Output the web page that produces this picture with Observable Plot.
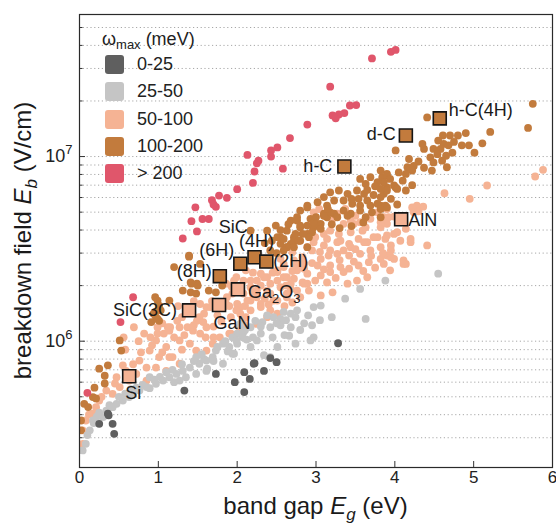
<!DOCTYPE html>
<html><head><meta charset="utf-8">
<script src="https://cdn.jsdelivr.net/npm/d3@7"></script>
<script src="https://cdn.jsdelivr.net/npm/@observablehq/plot@0.6"></script>
<style>
body{margin:0;background:#fff;font-family:"Liberation Sans",Arial,Helvetica,sans-serif;}
#wrap{position:relative;width:556px;height:526px;}
.lg{position:absolute;font-size:18px;color:#222;line-height:1;white-space:nowrap;}
.sw{position:absolute;width:19px;height:19px;border-radius:3px;}
</style></head><body><div id="wrap"></div>
<script>
// ω_max categories (meV)
const categories = ["0-25", "25-50", "50-100", "100-200", "> 200"];
const colors = ["#5f5f5f", "#c5c5c5", "#f5b394", "#c27b3d", "#e0566b"];

// [band gap Eg (eV), breakdown field Eb (V/cm)]
const w0_25 = [[0.36,4.05e5],[0.25,3.57e5],[0.42,3.57e5],[0.44,3.15e5],[0.37,3.97e5],[1.33,5.4e5],[1.73,6.65e5],[1.97,6.0e5],[2.09,6.8e5],[2.09,5.3e5],[2.16,6.25e5],[2.22,7.6e5],[2.42,8.1e5],[2.50,7.7e5],[3.28,9.75e5],[2.21,7.55e5],[2.34,6.9e5]];

const w25_50 = [[3.88,2.13e6],[3.56,1.92e6],[3.37,1.70e6],[3.63,1.32e6],[3.06,1.56e6],[2.97,1.53e6],[2.76,1.47e6],[2.68,1.41e6],[2.59,1.44e6],[2.55,1.32e6],[2.46,1.35e6],[2.38,1.38e6],[2.32,1.27e6],[2.23,1.29e6],[2.17,1.19e6],[2.08,1.12e6],[2.00,1.10e6],[1.94,1.05e6],[2.04,1.24e6],[2.42,1.19e6],[2.55,1.22e6],[2.68,1.19e6],[2.74,1.35e6],[2.66,1.07e6],[2.74,9.7e5],[2.51,9.3e5],[2.34,8.4e5],[2.42,8.2e5],[2.25,1.01e6],[2.17,9.3e5],[2.00,9.7e5],[1.96,8.55e5],[2.97,1.05e6],[2.93,1.01e6],[4.55,2.32e6],[2.07,1.05e6],[1.99,1.01e6],[1.90,9.3e5],[1.82,9.7e5],[1.73,8.9e5],[1.69,8.2e5],[1.61,7.85e5],[1.52,7.55e5],[1.48,8.2e5],[1.40,7.2e5],[1.31,6.9e5],[1.23,6.65e5],[1.14,6.38e5],[1.06,6.12e5],[0.97,5.88e5],[0.89,6.38e5],[0.85,5.64e5],[0.76,5.4e5],[0.68,5.19e5],[0.63,4.98e5],[0.55,4.77e5],[0.47,4.58e5],[0.42,4.39e5],[0.34,4.21e5],[0.30,3.88e5],[0.17,3.72e5],[0.13,3.29e5],[0.08,2.78e5],[0.04,2.56e5],[1.82,7.55e5],[1.94,8.55e5],[1.48,6.65e5],[1.35,6.38e5],[1.61,6.9e5],[1.27,6.12e5],[1.62,7.1e5],[0.89,5.57e5],[2.85,1.25e6],[2.62,1.30e6],[2.30,1.10e6],[2.12,1.02e6],[1.88,8.8e5],[1.58,8.0e5],[1.18,7.0e5],[1.02,6.4e5],[0.72,5.6e5],[0.58,5.2e5],[0.22,3.9e5],[3.20,1.35e6],[2.90,1.38e6],
[2.45,1.05e6],[2.60,1.08e6],[2.80,1.15e6],[2.95,1.22e6],[3.05,1.30e6],[2.20,1.05e6],[2.50,1.25e6],[2.30,1.20e6],[2.10,1.15e6],[1.85,1.0e6],[1.75,9.3e5],[1.55,8.5e5],[1.45,7.8e5],[1.30,7.5e5],[1.10,6.8e5],[0.95,6.2e5],[0.80,5.8e5],[0.65,5.5e5],[0.50,5.0e5],[0.38,4.5e5],[0.25,4.1e5],[0.18,3.6e5],[0.10,3.1e5],[1.70,7.8e5],[1.20,6.0e5]];

const w50_100 = [[5.88,8.47e6],[5.78,7.8e6],[5.17,6.97e6],[4.63,6.33e6],[4.95,5.9e6],[4.22,5.3e6],[4.28,5.43e6],[4.36,5.35e6],[4.24,4.99e6],[4.30,5.05e6],[3.86,4.69e6],[3.99,4.73e6],[3.90,4.32e6],[3.82,4.14e6],[3.99,3.81e6],[3.88,3.58e6],[4.20,3.58e6],[4.20,3.44e6],[4.41,3.3e6],[3.90,2.91e6],[3.99,2.79e6],[4.14,2.62e6],[3.94,2.42e6],
[2.97,4.99e6],[3.04,5.2e6],[3.27,4.9e6],[3.37,5.2e6],[3.44,4.5e6],[3.35,4.32e6],[3.21,4.6e6],[3.56,4.41e6],[3.69,4.6e6],[3.82,4.41e6],[3.92,4.69e6],[3.78,4.99e6],[3.90,5.2e6],[3.59,3.97e6],[3.44,3.89e6],[3.29,3.81e6],[3.18,3.97e6],[3.10,3.81e6],[2.99,3.66e6],[3.14,3.58e6],[3.27,3.44e6],[3.42,3.37e6],[3.54,3.58e6],[3.65,3.44e6],[3.78,3.66e6],[3.90,3.74e6],[4.03,3.89e6],[4.14,4.06e6],[4.07,3.5e6],[3.95,3.3e6],[3.82,3.23e6],[3.69,3.1e6],[3.56,2.97e6],[3.42,2.91e6],[3.27,2.97e6],[3.16,2.91e6],[3.06,2.79e6],[2.95,3.1e6],[3.02,2.57e6],[3.18,2.57e6],[3.31,2.52e6],[3.42,2.47e6],[3.54,2.57e6],[3.67,2.68e6],[3.82,2.79e6],[3.95,2.85e6],[4.11,2.74e6],[3.06,2.27e6],[3.18,2.37e6],[3.35,2.37e6],[3.65,2.22e6],[3.52,2.13e6],[3.40,2.05e6],[3.14,2.08e6],[2.99,2.13e6],[2.89,2.05e6],[3.21,1.84e6],[3.06,1.77e6],[2.83,2.08e6],[2.72,2.18e6],[2.59,2.22e6],[2.51,2.37e6],[2.59,2.52e6],[2.72,2.62e6],[2.85,2.47e6],[2.70,3.03e6],[2.83,2.85e6],[2.89,3.23e6],[2.97,3.44e6],[2.80,1.73e6],[2.91,1.88e6],[2.68,1.92e6],[2.55,1.96e6],[2.42,1.81e6],[2.51,1.66e6],[2.63,1.73e6],[2.34,2.22e6],[2.17,1.66e6],[2.08,1.81e6],[2.25,1.88e6],[2.17,2.13e6],[2.30,1.59e6],[2.04,1.53e6],[2.42,1.47e6],
[4.11,2.62e6],[3.86,2.62e6],[3.95,3.1e6],[3.61,3.44e6],[3.73,3.66e6],[3.63,4.14e6],[3.48,4.32e6],[3.50,4.78e6],[3.65,4.69e6],[3.44,3.23e6],[3.31,3.5e6],[3.18,3.1e6],
[1.96,2.13e6],[2.08,2.13e6],[2.17,1.96e6],[2.25,2.13e6],[2.30,2.32e6],[2.38,2.22e6],[2.51,2.42e6],[2.63,2.22e6],[2.68,2.05e6],[2.76,2.42e6],[2.89,2.32e6],[2.85,2.62e6],[2.72,2.74e6],[2.59,2.62e6],[2.51,2.13e6],[2.38,1.88e6],[2.25,1.73e6],[2.13,1.66e6],[2.00,1.59e6],[1.87,1.73e6],[1.83,1.53e6],[1.92,1.35e6],[2.04,1.41e6],[2.17,1.47e6],[2.30,1.53e6],[2.46,1.66e6],[2.63,1.81e6],[2.76,1.88e6],[2.85,2.05e6],[2.08,1.24e6],[2.25,1.24e6],[2.38,1.35e6],[2.51,1.41e6],[1.53,1.59e6],[1.66,1.53e6],[1.58,1.41e6],[1.49,1.29e6],[1.24,1.29e6],[1.37,1.19e6],[1.15,1.19e6],[1.07,1.10e6],[0.99,1.19e6],[0.82,1.10e6],[0.69,1.19e6],[0.56,1.05e6],[1.53,1.10e6],[1.70,1.05e6],[1.92,1.10e6],
[1.94,1.81e6],[1.86,1.59e6],[1.99,1.47e6],[1.61,1.53e6],[1.52,1.35e6],[1.61,1.19e6],[1.44,1.14e6],[1.27,1.19e6],[1.14,1.14e6],[1.27,1.01e6],[1.40,9.7e5],[1.48,8.9e5],[1.61,8.9e5],[1.69,9.7e5],[1.78,1.05e6],[1.90,1.10e6],[2.03,1.19e6],[2.11,1.35e6],[1.10,9.3e5],[0.97,1.01e6],[0.89,8.9e5],[1.01,8.2e5],[1.18,8.2e5],[1.27,7.55e5],[1.10,6.9e5],[0.97,7.2e5],[0.85,7.2e5],[0.72,6.65e5],[0.85,6.12e5],[0.63,6.12e5],[0.51,5.64e5],[0.42,5.19e5],[0.34,5.4e5],[0.25,4.77e5],[0.21,4.39e5],[0.17,4.05e5],[0.08,3.72e5],[0.04,3.29e5],[0.04,2.78e5],[0.47,6.38e5],[0.59,6.9e5],[0.76,7.85e5],[1.14,8.2e5],[1.12,1.19e6],[0.99,1.10e6],[1.86,2.05e6],[1.99,2.22e6],[2.11,2.42e6],
[1.05,1.25e6],[1.20,1.05e6],[1.33,1.08e6],[1.45,1.22e6],[1.57,1.27e6],[1.70,1.20e6],[1.80,1.28e6],[1.75,1.38e6],[1.68,1.65e6],[1.80,1.62e6],[1.90,1.55e6],[2.10,1.55e6],[2.20,1.80e6],[2.35,1.70e6],[2.30,2.00e6],[2.42,2.05e6],[2.45,2.35e6],[2.20,2.35e6],[2.05,1.95e6],[1.93,1.98e6],[2.62,2.00e6],[2.70,2.40e6],[2.80,2.60e6],[2.95,2.65e6],[3.10,2.45e6],[3.25,2.20e6],[3.30,2.75e6],[3.48,2.70e6],[3.60,2.40e6],[3.75,2.50e6],[3.70,2.90e6],[3.85,3.00e6],[3.50,3.15e6],[3.35,3.10e6],[3.10,3.30e6],[3.05,3.05e6],[2.55,2.80e6],[2.40,2.60e6],[1.30,9.0e5],[1.05,8.7e5],[0.92,9.5e5],[0.78,8.7e5],[0.68,7.5e5],[0.55,7.4e5],[0.45,5.9e5],[0.28,5.0e5],[0.12,4.0e5],[0.58,9.0e5],[0.75,1.0e6],[0.90,1.05e6],[1.60,1.05e6],[1.40,1.45e6],[1.30,1.35e6],[1.25,1.55e6],[1.45,1.65e6],[2.60,1.55e6],[2.40,1.58e6],[2.70,1.62e6]];

const w100_200 = [[5.75,1.93e7],[5.69,1.43e7],[4.41,1.63e7],[4.61,1.30e7],[4.70,1.30e7],[4.80,1.30e7],[4.90,1.34e7],[5.21,1.36e7],[5.11,1.18e7],[5.01,1.05e7],[4.94,1.15e7],[4.85,1.15e7],[4.62,1.17e7],[4.68,1.15e7],[4.58,1.10e7],[4.49,1.10e7],[4.37,1.10e7],[4.35,1.17e7],[4.73,1.05e7],[4.65,1.01e7],[4.54,1.03e7],[4.45,9.9e6],[4.01,1.08e7],[4.49,9.3e6],[4.60,9.5e6],[4.66,8.75e6],[4.47,8.4e6],[4.37,8.7e6],[4.24,8.9e6],[4.18,9.7e6],[4.16,8.75e6],[4.22,8.4e6],[4.14,8.05e6],[4.05,8.2e6],[3.90,8.05e6],[3.84,7.7e6],[4.01,6.8e6],[3.90,6.8e6],[4.22,7.0e6],[4.14,6.55e6],[3.86,6.28e6],[4.03,5.5e6],[3.95,5.9e6],[3.82,5.43e6],[3.88,5.43e6],
[4.20,8.6e6],[3.82,8.4e6],[3.90,7.9e6],[3.94,7.57e6],[3.86,7.26e6],[3.99,6.97e6],[4.03,6.68e6],[3.90,6.55e6],[3.78,7.26e6],[3.82,6.68e6],[3.69,7.73e6],[3.63,7.1e6],[3.56,7.57e6],[3.52,6.55e6],[3.61,6.28e6],[3.73,6.19e6],[3.82,6.03e6],[3.65,5.78e6],[3.54,5.9e6],[3.40,6.28e6],[3.35,5.78e6],[3.46,5.55e6],[3.56,5.43e6],[3.69,5.43e6],[3.78,5.55e6],[3.29,6.55e6],[3.18,6.4e6],[3.23,5.78e6],[3.10,6.03e6],[3.02,5.66e6],[3.14,5.43e6],[3.35,5.1e6],[3.23,4.9e6],[3.14,4.69e6],[3.44,4.9e6],[3.56,5.1e6],[3.71,4.99e6],[3.82,5.2e6],[3.90,5.3e6],[3.82,4.69e6],[2.89,5.43e6],[2.80,5.1e6],[2.93,4.6e6],[2.76,4.69e6],[2.68,4.5e6],[3.06,4.32e6],[2.97,4.14e6],[2.80,4.14e6],[2.89,3.81e6],[2.72,3.66e6],[2.63,3.97e6],[3.10,4.9e6],[2.68,3.37e6],[2.80,3.5e6],[2.63,3.23e6],[2.55,3.66e6],
[2.89,5.3e6],[3.18,4.99e6],[3.27,4.69e6],[3.10,4.78e6],[3.40,4.78e6],[3.63,4.69e6],[2.76,4.5e6],[2.89,4.23e6],[2.95,3.89e6],[2.83,3.81e6],[2.74,3.81e6],[3.02,4.32e6],[2.91,3.66e6],[3.06,4.06e6],[2.72,3.5e6],[2.51,3.66e6],[2.55,3.37e6],[2.63,3.23e6],[2.59,3.58e6],
[2.97,4.41e6],[2.80,4.23e6],[2.49,4.23e6],[2.38,3.97e6],[2.78,3.5e6],[2.72,3.23e6],[2.59,3.1e6],[2.89,3.23e6],[1.39,2.91e6],[1.20,2.52e6],[1.53,2.62e6],[2.17,3.97e6],[2.44,3.5e6],[2.42,3.1e6],
[1.39,2.87e6],[1.41,2.08e6],[1.49,2.05e6],[1.64,1.88e6],[1.81,2.0e6],[1.73,1.84e6],[1.41,1.84e6],[0.99,1.66e6],[1.01,1.56e6],[0.96,1.44e6],
[1.42,2.05e6],[1.50,2.0e6],[1.48,1.81e6],[1.31,1.88e6],[1.14,1.66e6],[0.97,1.35e6],[0.91,1.27e6],[1.01,1.29e6],[0.51,1.01e6],[0.53,8.9e5],[0.36,7.4e5],[0.25,7.1e5],[0.32,6.5e5],[0.32,5.9e5],[0.19,5.6e5],[0.17,4.98e5],[0.06,4.58e5],[0.02,3.72e5],[0.02,3.29e5],[0.11,4.4e5],[0.21,4.9e5],
[0.96,1.73e6],[1.03,1.47e6],[0.99,1.32e6],[0.94,1.41e6],
[3.30,4.10e6],[3.45,4.20e6],[3.60,4.40e6],[3.20,4.30e6],[3.00,4.70e6],[3.15,5.20e6],[3.45,5.90e6],[3.65,6.60e6],[3.75,6.90e6],[4.10,7.40e6],[4.30,9.40e6],[4.55,1.22e7],[4.75,1.20e7],[2.35,3.40e6],[2.55,4.00e6],[2.65,4.30e6],[2.50,3.00e6]];

const wOver200 = [[3.71,3.40e7],[3.95,3.69e7],[4.01,3.78e7],[3.18,2.39e7],[3.43,1.89e7],[3.51,1.90e7],[3.36,1.72e7],[3.29,1.69e7],[3.21,1.67e7],[3.25,1.61e7],[2.89,1.49e7],[2.67,1.26e7],[2.51,1.12e7],[2.43,1.08e7],[2.43,1.00e7],[2.27,9.5e6],[2.25,9.2e6],[2.13,1.02e7],[2.58,8.6e6],[2.22,8.3e6],[2.20,7.2e6],[2.00,6.66e6],[1.77,6.15e6],[1.87,5.98e6],[1.68,5.8e6],[1.73,5.34e6],[1.70,5.5e6],[1.47,5.31e6],[1.56,4.59e6],[1.64,4.59e6],[1.42,4.47e6],[1.49,3.93e6],[1.31,3.6e6],[0.68,1.73e6],[0.52,1.27e6],[0.10,5.25e5]];

// labelled materials
const matName = ["Si","SiC(3C)","GaN","Ga2O3","(8H)","(6H)","(4H)","(2H)","AlN","h-C","d-C","h-C(4H)"];
const matEg   = [0.63, 1.39, 1.77, 2.01, 1.78, 2.04, 2.22, 2.37, 4.08, 3.36, 4.14, 4.57];
const matEb   = [6.46e5, 1.47e6, 1.57e6, 1.91e6, 2.25e6, 2.63e6, 2.85e6, 2.70e6, 4.57e6, 8.83e6, 1.30e7, 1.61e7];
const matCat  = ["50-100","50-100","50-100","50-100","100-200","100-200","100-200","100-200","50-100","100-200","100-200","100-200"];
const groupLabel = "SiC"; // shared label of the SiC polytypes

// y axis ticks
const yMajor = [1e6, 1e7];
const yMinor = [3e5,4e5,5e5,6e5,7e5,8e5,9e5,2e6,3e6,4e6,5e6,6e6,7e6,8e6,9e6,2e7,3e7,4e7,5e7];
const xTicks = [0,1,2,3,4,5,6];

// ---- styles (label offsets, px) ----
const labelStyle = [
  {dx:4, dy:17, a:"middle"}, {dx:-12, dy:0, a:"end"}, {dx:13, dy:18.5, a:"middle"}, {dx:10, dy:3, a:"start"},
  {dx:-8, dy:-5, a:"end"}, {dx:-6, dy:-13.5, a:"end"}, {dx:2, dy:-15.5, a:"middle"}, {dx:7, dy:0, a:"start"},
  {dx:7, dy:0.5, a:"start"}, {dx:-12, dy:0, a:"end"}, {dx:-10, dy:-1, a:"end"}, {dx:9, dy:-8, a:"start"}
];

const toRows = (arr, cat) => arr.map(([Eg, Eb]) => ({Eg, Eb, cat}));
const layers = [
  toRows(w50_100, "50-100"), toRows(w100_200, "100-200"), toRows(w25_50, "25-50"),
  toRows(w0_25, "0-25"), toRows(wOver200, "> 200")
];
const mats = matName.map((name, i) => ({name, Eg: matEg[i], Eb: matEb[i], cat: matCat[i]}));

const font = "Liberation Sans, Arial, Helvetica, sans-serif";
const chart = Plot.plot({
  width: 556, height: 526,
  marginLeft: 79, marginRight: 4, marginTop: 14, marginBottom: 59,
  style: {fontFamily: font, fontSize: "17px", color: "#222", background: "white"},
  x: {domain: [0, 6]},
  y: {type: "log", domain: [2.07e5, 5.88e7]},
  color: {domain: categories, range: colors},
  marks: [
    Plot.gridY([...yMinor, ...yMajor], {stroke: "#a8a8a8", strokeOpacity: 1, strokeWidth: 1, strokeDasharray: "1.2,2.6"}),
    ...layers.map(d => Plot.dot(d, {x: "Eg", y: "Eb", fill: "cat", r: 3.9, clip: true})),
    Plot.dot(mats, {x: "Eg", y: "Eb", fill: "cat", symbol: "square", r: 7.3, stroke: "#151515", strokeWidth: 1.6}),
    ...mats.map((m, i) => Plot.text([m], {x: "Eg", y: "Eb", text: "name", dx: labelStyle[i].dx, dy: labelStyle[i].dy, textAnchor: labelStyle[i].a, fontSize: 18, fill: "#1a1a1a"})),
    Plot.text([mats[5]], {x: "Eg", y: "Eb", text: () => groupLabel, dx: -7, dy: -36.5, textAnchor: "middle", fontSize: 18, fill: "#1a1a1a"}),
    Plot.axisX({ticks: xTicks, tickSize: 0, tickPadding: 3, label: null, fontSize: 17, tickFormat: d => String(d)}),
    Plot.axisX({ticks: xTicks.slice(1, -1), tickSize: -6, tickFormat: () => "", label: null, stroke: "#333"}),
    Plot.axisY({ticks: yMajor, tickSize: 0, tickPadding: 7, label: null, fontSize: 18, tickFormat: d => "10^" + Math.round(Math.log10(d))}),
    Plot.axisY({ticks: yMajor, tickSize: -6, tickFormat: () => "", label: null, stroke: "#333"}),
    Plot.axisY({ticks: yMinor, tickSize: -3.5, tickFormat: () => "", label: null, stroke: "#333"}),
    Plot.frame({stroke: "#2a2a2a", strokeWidth: 1.2})
  ]
});

const svg = d3.select(chart);
// superscript exponents on the y tick labels
svg.selectAll("text").filter(function(){ return /^10\^\d+$/.test(this.textContent); }).each(function(){
  const exp = this.textContent.split("^")[1];
  const t = d3.select(this); t.text("");
  t.append("tspan").text("10");
  t.append("tspan").attr("dy", -8).attr("font-size", 13).text(exp);
});
// subscripts in Ga2O3
svg.selectAll("text").filter(function(){ return this.textContent === "Ga2O3"; }).each(function(){
  const t = d3.select(this); t.text("");
  t.append("tspan").text("Ga");
  t.append("tspan").attr("dy", 5).attr("font-size", 13).text("2");
  t.append("tspan").attr("dy", -5).text("O");
  t.append("tspan").attr("dy", 5).attr("font-size", 13).text("3");
});
// axis titles
const xl = svg.append("text").attr("x", 315.5).attr("y", 514).attr("text-anchor", "middle")
  .attr("font-size", 24).attr("font-family", font).attr("fill", "#1a1a1a");
xl.append("tspan").text("band gap ");
xl.append("tspan").attr("font-style", "italic").text("E");
xl.append("tspan").attr("font-style", "italic").attr("font-size", 17).attr("dy", 6).text("g");
xl.append("tspan").attr("dy", -6).text(" (eV)");
const yl = svg.append("text").attr("transform", "translate(31,240.5) rotate(-90)").attr("text-anchor", "middle")
  .attr("font-size", 24).attr("font-family", font).attr("fill", "#1a1a1a");
yl.append("tspan").text("breakdown field ");
yl.append("tspan").attr("font-style", "italic").text("E");
yl.append("tspan").attr("font-style", "italic").attr("font-size", 17).attr("dy", 6).text("b");
yl.append("tspan").attr("dy", -6).text(" (V/cm)");

const wrap = document.getElementById("wrap");
wrap.appendChild(chart);

// legend
const title = document.createElement("div");
title.className = "lg"; title.style.left = "102px"; title.style.top = "30px";
title.innerHTML = "ω<sub style='font-size:13px;vertical-align:-4px'>max</sub> (meV)";
wrap.appendChild(title);
categories.forEach((c, i) => {
  const cy = 64.5 + i * 27.25;
  const sw = document.createElement("div");
  sw.className = "sw"; sw.style.left = "105px"; sw.style.top = (cy - 9.5) + "px"; sw.style.background = colors[i];
  wrap.appendChild(sw);
  const lb = document.createElement("div");
  lb.className = "lg"; lb.style.left = "137px"; lb.style.top = (cy - 9.5) + "px"; lb.textContent = c;
  wrap.appendChild(lb);
});
</script></body></html>
